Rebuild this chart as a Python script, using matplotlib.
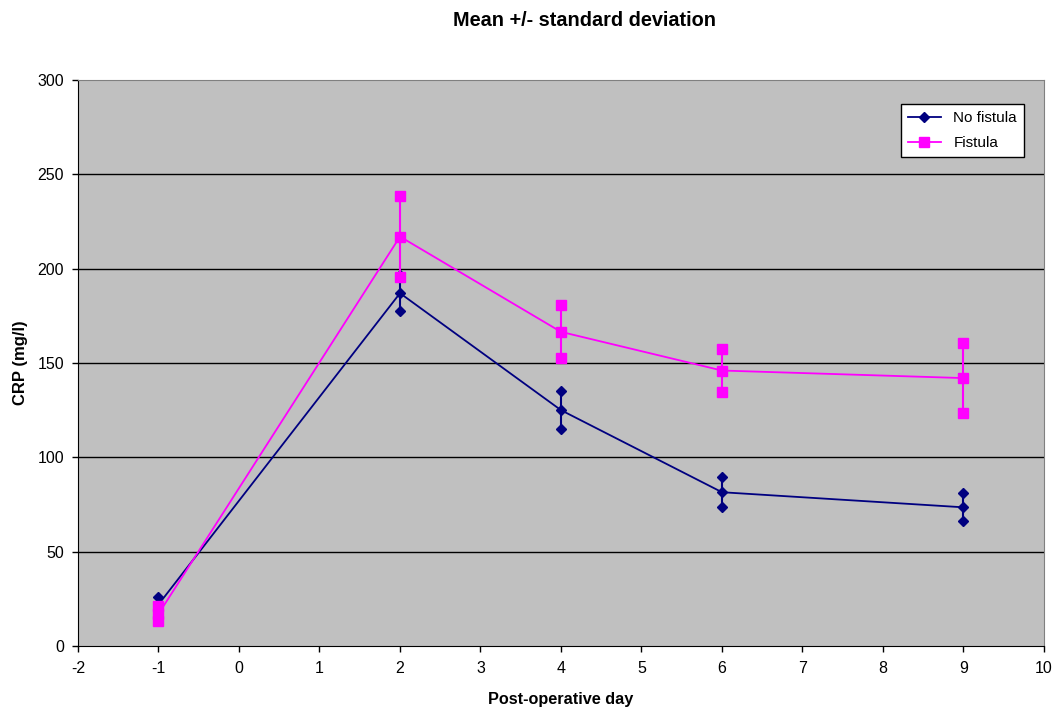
import matplotlib
matplotlib.use("Agg")
import matplotlib.pyplot as plt
import numpy as np

plt.rcParams["font.family"] = ["Liberation Sans", "DejaVu Sans"]
plt.rcParams["axes.unicode_minus"] = False

# ── Data ──────────────────────────────────────────────────────────────────────
days = [-1, 2, 4, 6, 9]
no_fistula_mean = [22, 187, 125, 81.5, 73.5]
no_fistula_sd = [4, 9.5, 10, 8, 7.5]
fistula_mean = [17, 217, 166.5, 146, 142]
fistula_sd = [4, 21.5, 14, 11.5, 18.5]

x_ticks = list(range(-2, 11))
y_ticks = list(range(0, 301, 50))

NAVY = "#000080"
MAGENTA = "#FF00FF"

fig = plt.figure(figsize=(10.54, 7.08), dpi=100)
ax = fig.add_axes([0.074, 0.0876, 0.9165, 0.7994])
ax.set_facecolor("#C0C0C0")

for y in y_ticks[1:-1]:
    ax.axhline(y, color="black", linewidth=1.0, zorder=1)


def draw_series(mean, sd, color, marker, ms, label, z):
    mean = np.array(mean)
    sd = np.array(sd)
    ax.vlines(days, mean - sd, mean + sd, color=color, linewidth=1.5, zorder=z)
    ax.plot(days, mean, color=color, marker=marker, markersize=ms,
            linewidth=1.3, label=label, zorder=z + 0.1)
    ax.plot(days, mean - sd, linestyle="none", marker=marker, color=color,
            markersize=ms, zorder=z + 0.2)
    ax.plot(days, mean + sd, linestyle="none", marker=marker, color=color,
            markersize=ms, zorder=z + 0.2)


draw_series(no_fistula_mean, no_fistula_sd, NAVY, "D", 5.5, "No fistula", 3)
draw_series(fistula_mean, fistula_sd, MAGENTA, "s", 6.5, "Fistula", 4)

ax.set_xlim(-2, 10)
ax.set_ylim(0, 300)
ax.set_xticks(x_ticks)
ax.set_yticks(y_ticks)
ax.tick_params(axis="both", labelsize=11.5, direction="out", length=4, width=1)
ax.tick_params(axis="x", pad=7)
ax.tick_params(axis="y", pad=6)

for side in ("left", "bottom"):
    ax.spines[side].set_color("black")
for side in ("top", "right"):
    ax.spines[side].set_color("#808080")

ax.set_xlabel("Post-operative day", fontsize=11.7, fontweight="bold", labelpad=11)
ax.set_ylabel("CRP (mg/l)", fontsize=12, fontweight="bold", labelpad=7)
fig.suptitle("Mean +/- standard deviation", fontsize=14.3, fontweight="bold",
             x=0.555, y=0.984)

leg = ax.legend(loc="upper right", bbox_to_anchor=(0.9793, 0.9576), fontsize=11,
                frameon=True, fancybox=False, handlelength=2.2,
                borderpad=0.45, labelspacing=0.75, borderaxespad=0)
leg.get_frame().set_edgecolor("black")
leg.get_frame().set_facecolor("white")
leg.get_frame().set_alpha(1)

fig.savefig("out.png", dpi=100)
